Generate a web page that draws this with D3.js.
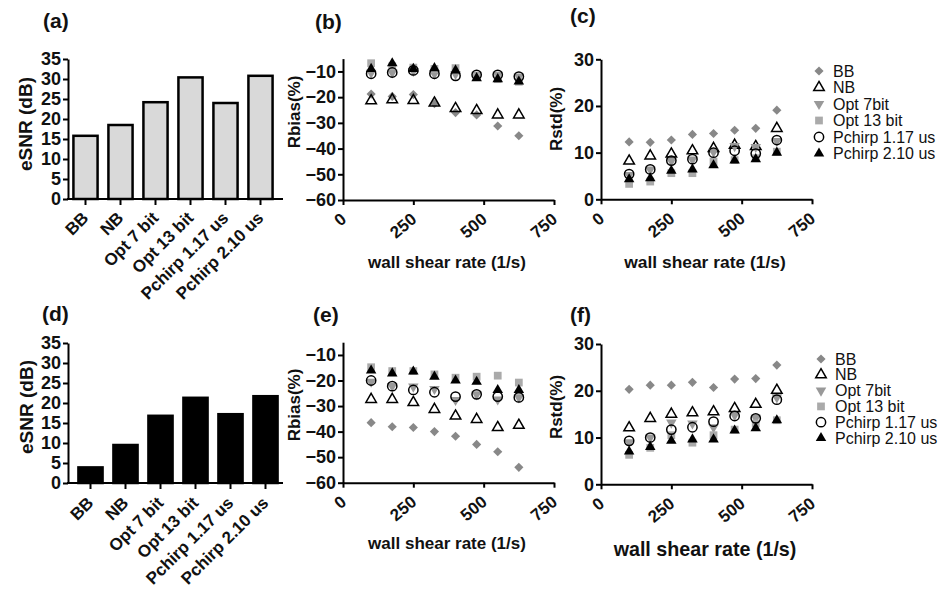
<!DOCTYPE html>
<html>
<head>
<meta charset="utf-8">
<script src="https://cdn.jsdelivr.net/npm/d3@7"></script>
<style>
  body { margin: 0; background: #fff; }
  svg { font-family: "Liberation Sans", Arial, sans-serif; }
  .axis path, .axis line { stroke: #000; stroke-width: 2; }
  .axis text { font-weight: bold; fill: #111; }
</style>
</head>
<body>
<div id="svg-container"></div>
<script>
// ---------------- data ----------------
const methods = ["BB", "NB", "Opt 7 bit", "Opt 13 bit", "Pchirp 1.17 us", "Pchirp 2.10 us"];
const seriesNames = ["BB", "NB", "Opt 7bit", "Opt 13 bit", "Pchirp 1.17 us", "Pchirp 2.10 us"];
const shearRate = [100, 175, 250, 325, 400, 475, 550, 625];

// eSNR (dB)
const esnrA = [15.8, 18.5, 24.2, 30.4, 24.0, 30.8];
const esnrD = [3.9, 9.5, 16.8, 21.3, 17.2, 21.7];

// Rbias (%) panel b
const biasB_BB = [-18.8, -19.7, -19, -22.5, -26, -26.9, -31.2, -35];
const biasB_NB = [-21.4, -21, -21.3, -22.3, -24.4, -25.2, -26.9, -26.9];
const biasB_O7 = [-10.5, -10.4, -9.8, -10.9, -11, -11.3, -11.3, -12];
const biasB_O13 = [-6.8, -8, -8.5, -9, -8.7, -12, -13, -14];
const biasB_P117 = [-10.9, -10.4, -9.6, -10.9, -11.7, -11.3, -11.3, -12];
const biasB_P210 = [-9, -6.8, -9, -8.7, -9.6, -12.6, -13, -13.9];

// Rstd (%) panel c
const stdC_BB = [12.3, 12.2, 12.7, 13.9, 14.1, 14.8, 15.2, 19.1];
const stdC_NB = [8.2, 9.3, 9.7, 10.4, 10.9, 11.6, 11.3, 15.2];
const stdC_O7 = [5.2, 6.4, 8.2, 8.5, 10.2, 11.4, 11.2, 12.5];
const stdC_O13 = [3.3, 3.8, 5.6, 5.6, 8.1, 8.4, 8.8, 10.2];
const stdC_P117 = [5.4, 6.4, 8.3, 8.6, 10.0, 10.4, 9.8, 12.7];
const stdC_P210 = [4.3, 4.5, 6.1, 6.4, 7.3, 8.3, 8.6, 10.0];

// Rbias (%) panel e
const biasE_BB = [-36.5, -38.1, -38.4, -40, -41.8, -45, -47.9, -54];
const biasE_NB = [-27.4, -27.4, -28.6, -31.3, -33.9, -35.2, -38.4, -37.5];
const biasE_O7 = [-20.5, -22.2, -22.4, -23.3, -27.6, -25.4, -27.4, -26.6];
const biasE_O13 = [-14.8, -16.3, -16.3, -17.6, -18.9, -18.5, -18.1, -20.8];
const biasE_P117 = [-20, -22.2, -23.7, -24.6, -26.3, -25.4, -26.3, -26.6];
const biasE_P210 = [-16.1, -17.2, -16.5, -18.5, -20, -20.5, -23.7, -23.7];

// Rstd (%) panel f
const stdF_BB = [20.3, 21.2, 21.2, 21.8, 20.7, 22.5, 22.6, 25.5];
const stdF_NB = [12.1, 14.1, 15.0, 15.3, 15.5, 16.2, 17.1, 20.1];
const stdF_O7 = [9.0, 10.0, 13.2, 13.0, 12.2, 14.8, 14.2, 18.6];
const stdF_O13 = [6.3, 7.8, 10.5, 8.9, 10.5, 11.7, 13.0, 13.7];
const stdF_P117 = [9.3, 10.0, 11.7, 12.2, 13.4, 14.6, 14.1, 18.1];
const stdF_P210 = [7.0, 8.0, 9.3, 9.6, 9.6, 11.5, 12.0, 13.7];

const esnrTicks = [0, 5, 10, 15, 20, 25, 30, 35];
const biasTicks = [-60, -50, -40, -30, -20, -10];
const stdTicks = [0, 10, 20, 30];
const rateTicks = [0, 250, 500, 750];

// ---------------- svg ----------------
const width = 949, height = 599;
const svg = d3.select("#svg-container").append("svg")
  .attr("width", width).attr("height", height);

// marker styles, in drawing order
const markers = [
  { type: d3.symbolSquare, size: 42, rot: 45, fill: "#888", stroke: "none" },
  { type: d3.symbolTriangle, size: 48, rot: 0, fill: "none", stroke: "#000" },
  { type: d3.symbolTriangle, size: 48, rot: 180, fill: "#999", stroke: "none" },
  { type: d3.symbolSquare, size: 60, rot: 0, fill: "#aaa", stroke: "none" },
  { type: d3.symbolCircle, size: 68, rot: 0, fill: "none", stroke: "#000" },
  { type: d3.symbolTriangle, size: 48, rot: 0, fill: "#000", stroke: "none" }
];

function drawMarker(g, m, x, y) {
  g.append("path")
    .attr("d", d3.symbol().type(m.type).size(m.size)())
    .attr("transform", `translate(${x},${y}) rotate(${m.rot})`)
    .attr("fill", m.fill)
    .attr("stroke", m.stroke)
    .attr("stroke-width", 1.5);
}

function panelLetter(txt, x, y) {
  svg.append("text").attr("x", x).attr("y", y)
    .attr("font-size", 21).attr("font-weight", "bold").attr("fill", "#111")
    .text(txt);
}

function yLabel(txt, x, y, size) {
  svg.append("text")
    .attr("transform", `translate(${x},${y}) rotate(-90)`)
    .attr("text-anchor", "middle")
    .attr("font-size", size).attr("font-weight", "bold").attr("fill", "#111")
    .text(txt);
}

// ---------------- bar panels ----------------
function barPanel(values, cfg) {
  const x = d3.scaleBand().domain(methods)
    .range([cfg.x0, cfg.x1]).paddingInner(0.31).paddingOuter(0.155);
  const y = d3.scaleLinear().domain([0, 35]).range([cfg.bottom, cfg.bottom - 140]);

  svg.append("g")
    .selectAll("rect")
    .data(values)
    .join("rect")
    .attr("x", (d, i) => x(methods[i]))
    .attr("y", (d) => y(d))
    .attr("width", x.bandwidth())
    .attr("height", (d) => y(0) - y(d))
    .attr("fill", cfg.fill)
    .attr("stroke", "#000")
    .attr("stroke-width", 2.5);

  svg.append("g")
    .attr("class", "axis")
    .attr("transform", `translate(68,0)`)
    .call(d3.axisLeft(y).tickValues(esnrTicks).tickSize(5).tickPadding(2).tickSizeOuter(0))
    .selectAll("text").attr("font-size", 18);

  const xa = svg.append("g").attr("class", "axis")
    .attr("transform", `translate(0,${cfg.bottom})`);
  xa.append("line").attr("x1", 67).attr("x2", 283);
  methods.forEach((m) => {
    const cx = x(m) + x.bandwidth() / 2;
    xa.append("line").attr("x1", cx).attr("x2", cx).attr("y1", 0).attr("y2", 6);
    xa.append("text")
      .attr("transform", `translate(${cx + 4},${cfg.labDy}) rotate(-45)`)
      .attr("text-anchor", "end")
      .attr("font-size", 17)
      .text(m);
  });
}

barPanel(esnrA, { x0: 68, x1: 278, bottom: 199, fill: "#d9d9d9", labDy: 20 });
barPanel(esnrD, { x0: 73, x1: 283, bottom: 483, fill: "#000", labDy: 21 });

panelLetter("(a)", 43, 28);
panelLetter("(d)", 42, 321);
yLabel("eSNR (dB)", 32, 124, 19);
yLabel("eSNR (dB)", 33, 407, 19);

// ---------------- scatter panels ----------------
function scatterPanel(series, cfg) {
  const x = d3.scaleLinear().domain([0, 750]).range([cfg.x0, cfg.x0 + 211]);
  const y = d3.scaleLinear().domain(cfg.yDomain).range(cfg.yRange);

  const pts = svg.append("g");
  series.forEach((vals, s) => {
    vals.forEach((v, i) => drawMarker(pts, markers[s], x(shearRate[i]), y(v)));
  });

  svg.append("g")
    .attr("class", "axis")
    .attr("transform", `translate(${cfg.x0},0)`)
    .call(d3.axisLeft(y).tickValues(cfg.yTicks).tickSize(5).tickPadding(2).tickSizeOuter(0))
    .selectAll("text").attr("font-size", 18);

  const xa = svg.append("g")
    .attr("class", "axis")
    .attr("transform", `translate(0,${cfg.yRange[0]})`)
    .call(d3.axisBottom(x).tickValues(rateTicks).tickSize(5).tickSizeOuter(0));
  xa.selectAll("text")
    .attr("font-size", 17)
    .attr("text-anchor", "end")
    .attr("dy", 0)
    .attr("y", 0)
    .attr("transform", "translate(4,21) rotate(-40)");

  svg.append("text")
    .attr("x", cfg.x0 + 104).attr("y", cfg.xLabY)
    .attr("text-anchor", "middle")
    .attr("font-size", cfg.xLabSize).attr("font-weight", "bold").attr("fill", "#111")
    .text("wall shear rate (1/s)");

  if (cfg.legend) {
    const lg = svg.append("g");
    seriesNames.forEach((name, s) => {
      const ly = cfg.legend.y + s * cfg.legend.step;
      drawMarker(lg, markers[s], cfg.legend.x, ly);
      lg.append("text")
        .attr("x", cfg.legend.x + 14).attr("y", ly + 5.5)
        .attr("font-size", 16).attr("fill", "#111")
        .text(name);
    });
  }
}

scatterPanel([biasB_BB, biasB_NB, biasB_O7, biasB_O13, biasB_P117, biasB_P210], {
  x0: 343, yDomain: [-60, -5], yRange: [200, 58.6], yTicks: biasTicks,
  xLabY: 268, xLabSize: 17
});
scatterPanel([stdC_BB, stdC_NB, stdC_O7, stdC_O13, stdC_P117, stdC_P210], {
  x0: 601, yDomain: [0, 30], yRange: [199.3, 59.3], yTicks: stdTicks,
  xLabY: 268, xLabSize: 17.4,
  legend: { x: 819, y: 71, step: 16.5 }
});
scatterPanel([biasE_BB, biasE_NB, biasE_O7, biasE_O13, biasE_P117, biasE_P210], {
  x0: 343, yDomain: [-60, -5], yRange: [482.7, 342.2], yTicks: biasTicks,
  xLabY: 549, xLabSize: 17
});
scatterPanel([stdF_BB, stdF_NB, stdF_O7, stdF_O13, stdF_P117, stdF_P210], {
  x0: 601, yDomain: [0, 30], yRange: [484.3, 344], yTicks: stdTicks,
  xLabY: 556, xLabSize: 19.7,
  legend: { x: 821, y: 359, step: 15.8 }
});

panelLetter("(b)", 315, 29);
panelLetter("(c)", 570, 23);
panelLetter("(e)", 313, 322);
panelLetter("(f)", 570, 322);

yLabel("Rbias(%)", 300, 112, 17);
yLabel("Rstd(%)", 562, 119, 17);
yLabel("Rbias(%)", 300, 405, 17);
yLabel("Rstd(%)", 562, 407, 17);
</script>
</body>
</html>
